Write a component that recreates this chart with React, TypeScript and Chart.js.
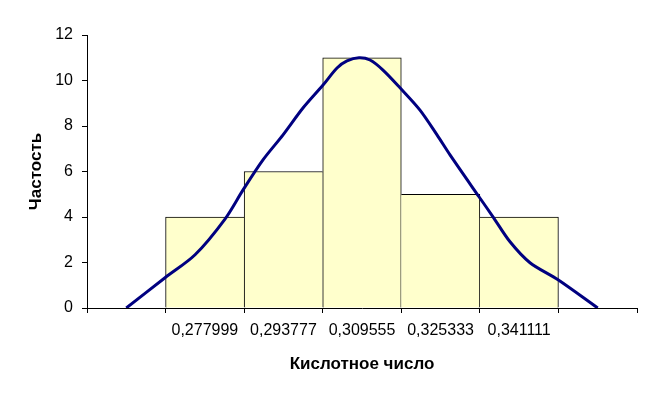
import React, { useEffect, useRef } from 'react';
import { Chart, registerables } from 'chart.js';

Chart.register(...registerables);

// Histogram categories (empty category on each side, as in the reference)
const categories = ['', '0,277999', '0,293777', '0,309555', '0,325333', '0,341111', ''];
const binCenters = [0.277999, 0.293777, 0.309555, 0.325333, 0.341111];
const frequencies: (number | null)[] = [null, 4, 6, 11, 5, 4, null];

// Smoothed theoretical curve
const curveX = [
  0.26222, 0.27, 0.27603, 0.28204, 0.28567, 0.28967, 0.2937, 0.2977, 0.30173, 0.30454, 0.30654, 0.30895,
  0.31116, 0.31377, 0.31719, 0.3212, 0.32462, 0.32723, 0.33305, 0.33586, 0.33928, 0.34329, 0.34892, 0.35689,
];
const curveY = [
  0, 1.33, 2.34, 3.91, 5.19, 6.51, 7.61, 8.79, 9.8, 10.55, 10.86, 11.0,
  10.9, 10.46, 9.68, 8.7, 7.61, 6.73, 4.89, 4.01, 2.91, 1.99, 1.24, 0,
];

const yMin = 0;
const yMax = 12;
const yStep = 2;

const xTitle = 'Кислотное число';
const yTitle = 'Частость';

const FONT = '"Liberation Sans", Arial, sans-serif';

export default function App() {
  const ref = useRef<HTMLCanvasElement>(null);

  useEffect(() => {
    if (!ref.current) return;
    const step = (binCenters[binCenters.length - 1] - binCenters[0]) / (binCenters.length - 1);
    const xvMin = binCenters[0] - 1.5 * step;
    const xvMax = binCenters[binCenters.length - 1] + 1.5 * step;

    const chart = new Chart(ref.current, {
      type: 'bar',
      data: {
        labels: categories,
        datasets: [
          {
            type: 'line',
            label: 'curve',
            data: curveX.map((x, i) => ({ x, y: curveY[i] })),
            xAxisID: 'xv',
            yAxisID: 'y',
            borderColor: '#000080',
            borderWidth: 3,
            pointRadius: 0,
            tension: 0.3,
            fill: false,
            order: 0,
          } as any,
          {
            type: 'bar',
            label: 'freq',
            data: frequencies,
            xAxisID: 'x',
            yAxisID: 'y',
            backgroundColor: '#FFFFCC',
            borderColor: '#000000',
            borderWidth: (ctx: any) => {
              const i = ctx.dataIndex;
              const v = frequencies[i] ?? 0;
              const prev = frequencies[i - 1];
              const next = frequencies[i + 1];
              return {
                top: 1,
                bottom: 0,
                left: prev == null || prev <= v ? 1 : 0,
                right: next == null || next < v ? 1 : 0,
              };
            },
            borderSkipped: 'bottom',
            barPercentage: 1,
            categoryPercentage: 1,
            grouped: false,
            order: 1,
          } as any,
        ],
      },
      options: {
        responsive: false,
        animation: false,
        devicePixelRatio: 1,
        layout: { padding: { left: 0, right: 19, top: 35, bottom: 0 } },
        plugins: {
          legend: { display: false },
          tooltip: { enabled: false },
        },
        scales: {
          x: {
            type: 'category',
            offset: true,
            grid: {
              offset: true,
              drawOnChartArea: false,
              drawTicks: true,
              tickLength: 5,
              color: '#000000',
              lineWidth: 1,
            },
            border: { color: '#000000', width: 1 },
            ticks: {
              color: '#000000',
              font: { family: FONT, size: 16 },
              padding: 8,
              maxRotation: 0,
              autoSkip: false,
            },
            title: {
              display: true,
              text: xTitle,
              color: '#000000',
              font: { family: FONT, size: 17, weight: 'bold' },
              padding: { top: 0, bottom: 26 },
            },
            afterFit: (s: any) => {
              s.height = 93;
            },
          },
          xv: {
            type: 'linear',
            display: false,
            offset: false,
            grid: { offset: false },
            min: xvMin,
            max: xvMax,
          },
          y: {
            type: 'linear',
            min: yMin,
            max: yMax,
            ticks: {
              stepSize: yStep,
              color: '#000000',
              font: { family: FONT, size: 16 },
              padding: 9,
            },
            grid: {
              drawOnChartArea: false,
              drawTicks: true,
              tickLength: 5,
              color: '#000000',
            },
            border: { color: '#000000', width: 1 },
            title: {
              display: true,
              text: yTitle,
              color: '#000000',
              font: { family: FONT, size: 17, weight: 'bold' },
              padding: { top: 26, bottom: 0 },
            },
            afterFit: (s: any) => {
              s.width = 87;
            },
          },
        } as any,
      },
    });
    return () => chart.destroy();
  }, []);

  return (
    <div style={{ position: 'fixed', left: 0, top: 0, width: 656, height: 401, background: '#ffffff' }}>
      <canvas ref={ref} width={656} height={401} style={{ display: 'block' }} />
    </div>
  );
}
